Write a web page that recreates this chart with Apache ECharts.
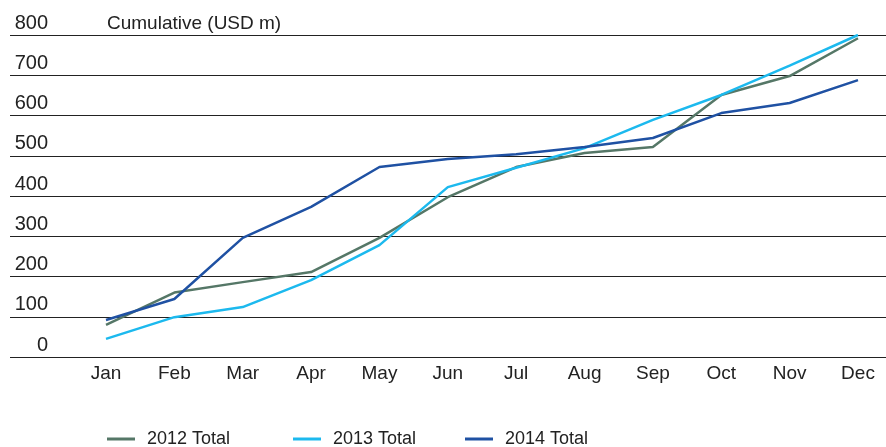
<!DOCTYPE html>
<html>
<head>
<meta charset="utf-8">
<script src="https://cdn.jsdelivr.net/npm/echarts@6/dist/echarts.min.js"></script>
<style>
  html, body { margin: 0; padding: 0; background: #fff; }
  #chart { width: 886px; height: 447px; }
</style>
</head>
<body>
<div id="chart"></div>
<script>
// months on the x axis
const months = ['Jan', 'Feb', 'Mar', 'Apr', 'May', 'Jun', 'Jul', 'Aug', 'Sep', 'Oct', 'Nov', 'Dec'];

// cumulative values, USD m
const total2012 = [80, 160, 186, 211, 296, 397, 472, 507, 522, 651, 698, 792];
const total2013 = [45, 99, 124, 191, 278, 422, 470, 519, 589, 651, 724, 800];
const total2014 = [92, 144, 296, 373, 472, 492, 504, 522, 544, 606, 631, 688];

const seriesNames = ['2012 Total', '2013 Total', '2014 Total'];
const seriesColors = ['#557767', '#1cb9ee', '#1f51a3'];
const seriesData = [total2012, total2013, total2014];

const FONT = '"Liberation Sans", Arial, sans-serif';
const TEXT = '#222';

const chart = echarts.init(document.getElementById('chart'));

// one legend per item so each sits where the reference has it
const legendLeft = [107, 293, 465];

const option = {
  animation: false,
  backgroundColor: '#fff',
  textStyle: { fontFamily: FONT },
  title: {
    text: 'Cumulative (USD m)',
    left: 102,
    top: 14,
    padding: [0, 5],
    textStyle: { fontFamily: FONT, fontSize: 19, fontWeight: 'normal', color: TEXT }
  },
  legend: seriesNames.map((name, i) => ({
    data: [name],
    left: legendLeft[i],
    top: 430,
    padding: 0,
    icon: 'rect',
    itemWidth: 28,
    itemHeight: 3,
    textStyle: { fontFamily: FONT, fontSize: 18, color: TEXT, padding: [0, 0, 0, 7] }
  })),
  grid: [
    // full width grid: gridlines and y labels
    { left: 10, right: 0, top: 35, bottom: 90 },
    // plot grid: data lines and month labels
    { left: 106, right: 28, top: 35, bottom: 90 }
  ],
  xAxis: [
    { gridIndex: 0, type: 'value', show: false, min: 0, max: 1 },
    {
      gridIndex: 1,
      type: 'category',
      data: months,
      boundaryGap: false,
      axisLine: { show: false },
      axisTick: { show: false },
      axisLabel: { fontFamily: FONT, fontSize: 19, color: TEXT, margin: 7 }
    }
  ],
  yAxis: [
    {
      gridIndex: 0,
      type: 'value',
      min: 0,
      max: 800,
      interval: 100,
      axisLine: { show: false },
      axisTick: { show: false },
      axisLabel: {
        inside: true,
        margin: 38,
        align: 'right',
        verticalAlign: 'bottom',
        padding: [0, 0, 2, 0],
        fontFamily: FONT,
        fontSize: 20,
        color: TEXT
      },
      splitLine: { lineStyle: { color: '#222', width: 1 } }
    },
    { gridIndex: 1, type: 'value', min: 0, max: 800, show: false }
  ],
  series: seriesNames.map((name, i) => ({
    name: name,
    type: 'line',
    xAxisIndex: 1,
    yAxisIndex: 1,
    data: seriesData[i],
    symbol: 'none',
    color: seriesColors[i],
    lineStyle: { width: 2.5, color: seriesColors[i] }
  }))
};

chart.setOption(option);
</script>
</body>
</html>
